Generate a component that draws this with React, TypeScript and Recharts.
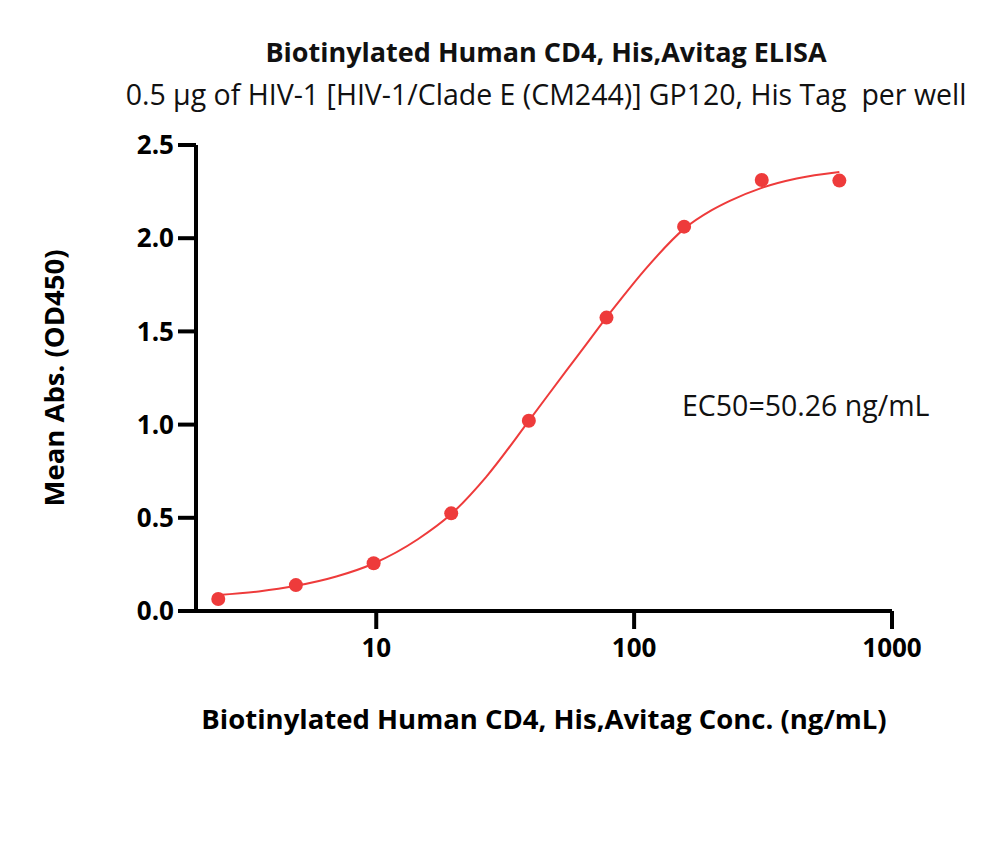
import React from 'react'
import { ComposedChart, Line, Scatter, XAxis, YAxis, Label } from 'recharts'

// measured points (ng/mL, OD450)
const concentrations = [2.44, 4.88, 9.77, 19.53, 39.06, 78.13, 156.25, 312.5, 625]
const meanAbs = [0.064, 0.139, 0.256, 0.524, 1.021, 1.574, 2.062, 2.312, 2.309]

// fitted curve
const fitConc = [2.44, 3.5, 4.88, 7, 9.77, 14.5, 19.53, 26.7, 39.06, 54.6, 65.2, 78.13, 87.9, 110, 156.25, 200, 235, 312.5, 427, 625]
const fitAbs = [0.086, 0.105, 0.135, 0.185, 0.255, 0.385, 0.52, 0.72, 1.02, 1.29, 1.43, 1.575, 1.665, 1.83, 2.05, 2.15, 2.2, 2.27, 2.32, 2.355]

const xTicks = [10, 100, 1000]
const yTicks = [0, 0.5, 1.0, 1.5, 2.0, 2.5]

const RED = '#ee3b3b'
const FONT = '"Open Sans", sans-serif'

const points = concentrations.map((c, i) => ({ c, v: meanAbs[i] }))
const curve = fitConc.map((c, i) => ({ c, v: fitAbs[i] }))

export default function App() {
  return (
    <div style={{ position: 'absolute', left: 0, top: 0, width: 1000, height: 848, background: '#fff', fontFamily: FONT }}>
      <div style={{ position: 'absolute', top: 33, left: 0, width: 1092, textAlign: 'center', fontSize: 27, fontWeight: 700, color: '#111', lineHeight: '38px' }}>
        Biotinylated Human CD4, His,Avitag ELISA
      </div>
      <div style={{ position: 'absolute', top: 74, left: 0, width: 1092, textAlign: 'center', fontSize: 28.5, color: '#111', lineHeight: '40px', whiteSpace: 'nowrap' }}>
        0.5 μg of HIV-1 [HIV-1/Clade E (CM244)] GP120, His Tag&nbsp; per well
      </div>
      <div style={{ position: 'absolute', top: 385, left: 682, fontSize: 28.5, color: '#111', lineHeight: '40px', whiteSpace: 'nowrap' }}>
        EC50=50.26 ng/mL
      </div>
      <ComposedChart width={1000} height={848} margin={{ top: 145, right: 108, bottom: 177, left: 136 }}>
        <XAxis
          dataKey="c"
          type="number"
          scale="log"
          domain={[2, 1000]}
          ticks={xTicks}
          allowDataOverflow
          height={60}
          axisLine={{ stroke: '#000', strokeWidth: 4 }}
          tickLine={{ stroke: '#000', strokeWidth: 4 }}
          tickSize={18}
          tickMargin={10}
          tick={{ fill: '#000', fontSize: 26, fontWeight: 700, fontFamily: FONT }}
        >
          <Label
            value="Biotinylated Human CD4, His,Avitag Conc. (ng/mL)"
            position="insideBottom"
            offset={-58}
            style={{ fill: '#000', fontSize: 27.5, fontWeight: 700, fontFamily: FONT }}
          />
        </XAxis>
        <YAxis
          dataKey="v"
          type="number"
          domain={[0, 2.5]}
          ticks={yTicks}
          width={60}
          axisLine={{ stroke: '#000', strokeWidth: 4 }}
          tickLine={{ stroke: '#000', strokeWidth: 4 }}
          tickSize={18}
          tickMargin={4}
          tickFormatter={(v: number) => v.toFixed(1)}
          tick={{ fill: '#000', fontSize: 26, fontWeight: 700, fontFamily: FONT }}
        >
          <Label
            value="Mean Abs. (OD450)"
            angle={-90}
            position="insideLeft"
            offset={-82}
            style={{ fill: '#000', fontSize: 27.5, fontWeight: 700, fontFamily: FONT, textAnchor: 'middle' }}
          />
        </YAxis>
        <Line
          data={curve}
          dataKey="v"
          type="monotone"
          stroke={RED}
          strokeWidth={2}
          dot={false}
          activeDot={false}
          isAnimationActive={false}
        />
        <Scatter
          data={points}
          dataKey="v"
          fill={RED}
          isAnimationActive={false}
          shape={(p: any) => <circle cx={p.cx} cy={p.cy} r={7} fill={RED} />}
        />
      </ComposedChart>
    </div>
  )
}
